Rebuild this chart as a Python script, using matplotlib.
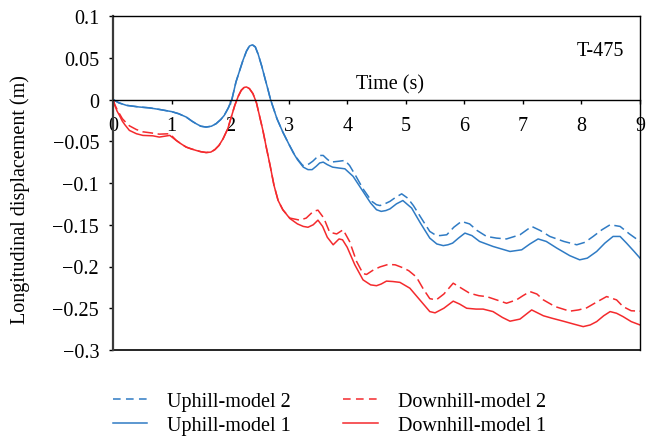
import matplotlib
matplotlib.use("Agg")
import matplotlib.pyplot as plt
from matplotlib.lines import Line2D

plt.rcParams["font.family"] = ["Liberation Serif", "DejaVu Serif"]
plt.rcParams["axes.unicode_minus"] = True

# ---- data -------------------------------------------------------------
up1_t = [0, 0.1, 0.23, 0.45, 0.62, 0.8, 1.0, 1.12, 1.25, 1.35, 1.42, 1.5, 1.59, 1.68,
         1.76, 1.84, 1.9, 1.97, 2.03, 2.1, 2.16, 2.22, 2.28, 2.33, 2.38, 2.43, 2.48,
         2.54, 2.6, 2.65, 2.69, 2.8, 2.9, 3.0, 3.08, 3.15, 3.25, 3.33, 3.4, 3.47, 3.53,
         3.59, 3.66, 3.75, 3.85, 3.96, 4.1, 4.25, 4.4, 4.5, 4.58, 4.66, 4.73, 4.84,
         4.95, 5.1, 5.25, 5.41, 5.53, 5.64, 5.72, 5.8, 5.9, 6.01, 6.13, 6.26, 6.49,
         6.78, 6.98, 7.12, 7.26, 7.4, 7.58, 7.8, 7.97, 8.1, 8.26, 8.4, 8.54, 8.66,
         8.77, 8.9, 9.0]
up1_y = [0, -0.004, -0.007, -0.009, -0.010, -0.012, -0.0145, -0.017, -0.021, -0.026,
         -0.029, -0.032, -0.033, -0.032, -0.029, -0.024, -0.019, -0.010, 0.0, 0.021,
         0.034, 0.047, 0.058, 0.064, 0.0655, 0.063, 0.054, 0.040, 0.024, 0.011, 0.0,
         -0.023, -0.039, -0.053, -0.064, -0.072, -0.081, -0.084, -0.084, -0.080,
         -0.076, -0.075, -0.078, -0.081, -0.082, -0.083, -0.092, -0.108, -0.124,
         -0.132, -0.134, -0.133, -0.131, -0.125, -0.121, -0.130, -0.148, -0.166,
         -0.173, -0.175, -0.174, -0.172, -0.166, -0.160, -0.163, -0.170, -0.176,
         -0.182, -0.180, -0.173, -0.167, -0.170, -0.178, -0.187, -0.192, -0.190,
         -0.182, -0.172, -0.164, -0.164, -0.172, -0.182, -0.190]

up2_t = up1_t[:34] + [3.1, 3.17, 3.24, 3.3, 3.35, 3.41, 3.47, 3.53, 3.59, 3.65, 3.72,
                      3.85, 3.96, 4.04, 4.15, 4.27, 4.42, 4.5, 4.56, 4.64, 4.73, 4.83,
                      4.93, 5.03, 5.13, 5.3, 5.41, 5.5, 5.58, 5.70, 5.82, 5.95, 6.09,
                      6.22, 6.38, 6.55, 6.72, 6.95, 7.05, 7.15, 7.3, 7.46, 7.7, 7.92,
                      8.06, 8.2, 8.35, 8.49, 8.66, 8.82, 9.0]
up2_y = up1_y[:34] + [-0.066, -0.073, -0.079, -0.079, -0.077, -0.074, -0.070, -0.067,
                      -0.067, -0.071, -0.075, -0.074, -0.073, -0.079, -0.092, -0.107,
                      -0.122, -0.126, -0.127, -0.125, -0.122, -0.117, -0.113, -0.118,
                      -0.127, -0.146, -0.158, -0.162, -0.163, -0.162, -0.153, -0.146,
                      -0.149, -0.157, -0.164, -0.166, -0.167, -0.162, -0.157, -0.152,
                      -0.157, -0.164, -0.170, -0.174, -0.171, -0.164, -0.156, -0.150,
                      -0.152, -0.161, -0.170]

dn1_t = [0, 0.03, 0.07, 0.11, 0.16, 0.2, 0.28, 0.4, 0.51, 0.68, 0.79, 0.97, 1.08, 1.16,
         1.25, 1.33, 1.42, 1.5, 1.59, 1.67, 1.74, 1.81, 1.88, 1.96, 2.02, 2.08, 2.14,
         2.19, 2.24, 2.28, 2.33, 2.39, 2.45, 2.5, 2.56, 2.62, 2.68, 2.75, 2.82, 2.9,
         3.02, 3.15, 3.25, 3.33, 3.42, 3.5, 3.58, 3.66, 3.76, 3.86, 3.92, 4.0, 4.13,
         4.27, 4.4, 4.5, 4.58, 4.67, 4.78, 4.9, 5.07, 5.24, 5.41, 5.5, 5.65, 5.81,
         5.92, 6.04, 6.2, 6.32, 6.49, 6.65, 6.78, 6.95, 7.15, 7.35, 7.5, 7.69, 7.87,
         8.03, 8.15, 8.26, 8.38, 8.49, 8.6, 8.71, 8.85, 9.0]
dn1_y = [0, -0.007, -0.014, -0.019, -0.026, -0.030, -0.037, -0.041, -0.043, -0.0435,
         -0.045, -0.043, -0.049, -0.053, -0.057, -0.059, -0.061, -0.0625, -0.0635,
         -0.063, -0.060, -0.055, -0.047, -0.035, -0.021, -0.007, 0.004, 0.011, 0.0145,
         0.015, 0.013, 0.007, -0.004, -0.019, -0.037, -0.058, -0.078, -0.103, -0.121,
         -0.132, -0.1425, -0.149, -0.152, -0.153, -0.150, -0.1445, -0.152, -0.165,
         -0.174, -0.167, -0.168, -0.177, -0.198, -0.216, -0.222, -0.223, -0.221,
         -0.2175, -0.218, -0.219, -0.226, -0.240, -0.254, -0.2555, -0.250, -0.2415,
         -0.245, -0.250, -0.251, -0.251, -0.254, -0.261, -0.2655, -0.263, -0.252,
         -0.259, -0.262, -0.2655, -0.269, -0.272, -0.270, -0.266, -0.259, -0.254,
         -0.256, -0.260, -0.266, -0.270]

dn2_t = [0, 0.03, 0.07, 0.11, 0.16, 0.2, 0.28, 0.4, 0.51, 0.65, 0.79, 0.97] + \
        dn1_t[12:40] + \
        [3.02, 3.19, 3.3, 3.42, 3.5, 3.6, 3.7, 3.82, 3.93, 4.04, 4.16, 4.27, 4.33, 4.45,
         4.56, 4.70, 4.82, 4.95, 5.05, 5.18, 5.3, 5.41, 5.52, 5.65, 5.81, 5.95, 6.09,
         6.25, 6.38, 6.55, 6.72, 6.89, 7.0, 7.12, 7.24, 7.35, 7.55, 7.80, 7.95, 8.09,
         8.25, 8.43, 8.6, 8.71, 8.85, 9.0]
dn2_y = [0, -0.006, -0.012, -0.017, -0.023, -0.026, -0.0315, -0.036, -0.0387, -0.040,
         -0.0415, -0.041] + \
        dn1_y[12:40] + \
        [-0.142, -0.1445, -0.142, -0.134, -0.1325, -0.142, -0.159, -0.161, -0.156,
         -0.170, -0.194, -0.2085, -0.2095, -0.204, -0.2005, -0.1975, -0.198, -0.2015,
         -0.205, -0.2125, -0.227, -0.2385, -0.240, -0.233, -0.220, -0.226, -0.232,
         -0.235, -0.236, -0.240, -0.244, -0.240, -0.235, -0.230, -0.233, -0.240,
         -0.248, -0.2535, -0.252, -0.2495, -0.243, -0.236, -0.240, -0.248, -0.253,
         -0.2535]

xticks = list(range(10))
yticks = [0.1, 0.05, 0, -0.05, -0.1, -0.15, -0.2, -0.25, -0.3]
ytick_labels = ["0.1", "0.05", "0", "\u22120.05", "\u22120.1", "\u22120.15",
                "\u22120.2", "\u22120.25", "\u22120.3"]

labels = ["Uphill-model 2", "Uphill-model 1", "Downhill-model 2", "Downhill-model 1"]

# ---- figure -----------------------------------------------------------
BLUE = "#2f7bc4"
RED = "#f42a2d"
FS = 14.5

fig = plt.figure(figsize=(6.46, 4.39), dpi=100)
ax = fig.add_axes([113 / 646, 1 - 351 / 439, 527 / 646, 334 / 439])

line_kw = dict(lw=1.1, solid_joinstyle="round", dash_joinstyle="round")
ax.plot(up2_t, up2_y, color=BLUE, dashes=(7, 3), **line_kw)
ax.plot(up1_t, up1_y, color=BLUE, **line_kw)
ax.plot(dn2_t, dn2_y, color=RED, dashes=(7, 3), **line_kw)
ax.plot(dn1_t, dn1_y, color=RED, **line_kw)

ax.set_xlim(0, 9)
ax.set_ylim(-0.3, 0.1)

# x axis runs along y = 0, with the box closed at the bottom
ax.spines["bottom"].set_position(("data", 0))
ax.spines["bottom"].set_linewidth(1.0)
ax.plot([0, 1], [0, 0], transform=ax.transAxes, color="black", lw=1.2, clip_on=False)
for s in ("top", "right"):
    ax.spines[s].set_linewidth(1.0)
ax.spines["left"].set_linewidth(1.6)
ax.spines["left"].set_color("#3a3a3a")

ax.set_xticks(xticks)
ax.set_xticklabels([str(v) for v in xticks], fontsize=FS)
ax.set_yticks(yticks)
ax.set_yticklabels(ytick_labels, fontsize=FS)
ax.tick_params(axis="x", direction="out", length=3, width=1, pad=9)
ax.tick_params(axis="y", direction="out", length=3, width=1, pad=7)

ax.text(4.735, 0.0188, "Time (s)", fontsize=FS, ha="center", va="center")
ax.text(8.325, 0.059, "T-475", fontsize=FS, ha="center", va="center")

fig.text(20 / 646, 1 - 200 / 439, "Longitudinal displacement (m)", fontsize=FS,
         rotation=90, ha="center", va="center")

handles = [Line2D([], [], color=BLUE, lw=1.1, dashes=(5, 3.5)),
           Line2D([], [], color=BLUE, lw=1.1),
           Line2D([], [], color=RED, lw=1.1, dashes=(5, 3.5)),
           Line2D([], [], color=RED, lw=1.1)]
fig.legend(handles, labels,
           ncol=2, loc="upper left", bbox_to_anchor=(113 / 646, 1 - 393 / 439),
           frameon=False, fontsize=FS, handlelength=1.7, handletextpad=1.0,
           columnspacing=2.6, labelspacing=0.22, borderpad=0, borderaxespad=0)

fig.savefig("out.png", dpi=100)
